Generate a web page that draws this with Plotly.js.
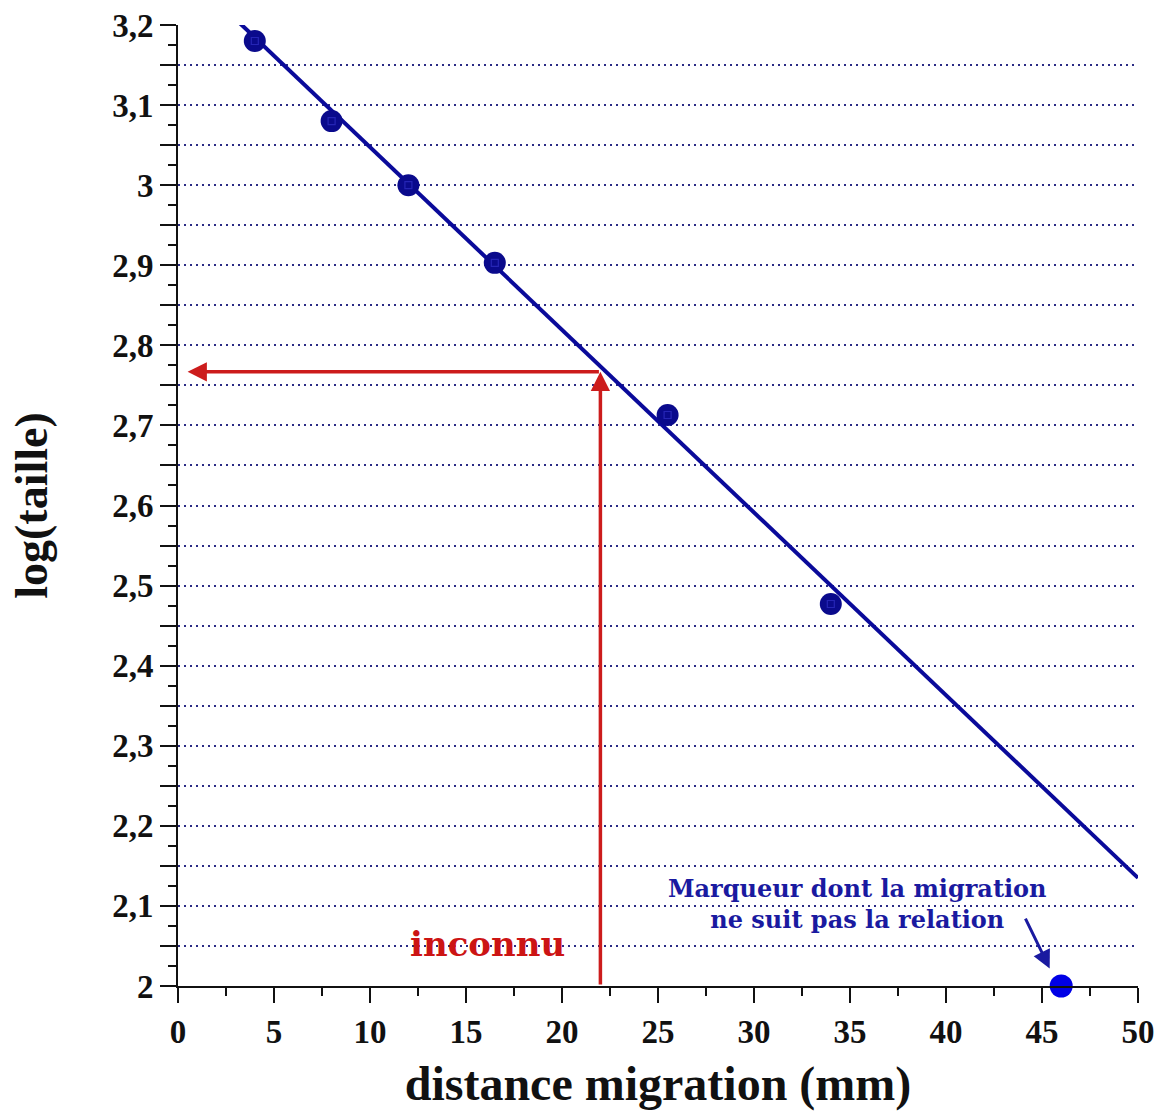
<!DOCTYPE html>
<html>
<head>
<meta charset="utf-8">
<script src="https://cdn.plot.ly/plotly-3.0.1.min.js"></script>
<style>html,body{margin:0;padding:0;background:#fff;}#chart{width:1157px;height:1113px;}</style>
</head>
<body>
<div id="chart"></div>
<script>
// Marker points (distance in mm, log of size)
const distMarkers = [4, 8, 12, 16.5, 25.5, 34];
const logMarkers = [3.18, 3.08, 3.0, 2.903, 2.713, 2.477];
// Outlier marker
const distOutlier = [46];
const logOutlier = [2.0];
// Regression line endpoints
const fitX = [3.1, 50];
const fitY = [3.205, 2.135];
// Unknown sample
const unknownDist = 22;
const unknownLog = 2.767;
// Y tick values and labels
const yTickVals = [2.0, 2.05, 2.1, 2.15, 2.2, 2.25, 2.3, 2.35, 2.4, 2.45, 2.5, 2.55, 2.6, 2.65, 2.7, 2.75, 2.8, 2.85, 2.9, 2.95, 3.0, 3.05, 3.1, 3.15, 3.2];
const yTickText = ["2", "", "2,1", "", "2,2", "", "2,3", "", "2,4", "", "2,5", "", "2,6", "", "2,7", "", "2,8", "", "2,9", "", "3", "", "3,1", "", "3,2"];
const xTickVals = [0, 5, 10, 15, 20, 25, 30, 35, 40, 45, 50];
const xTickText = ["0", "5", "10", "15", "20", "25", "30", "35", "40", "45", "50"];

const serif = "Liberation Serif, Times New Roman, serif";
const slab = "DejaVu Serif, serif";

const traces = [
  {x: fitX, y: fitY, mode: 'lines', line: {color: '#0a0a9a', width: 4}, hoverinfo: 'skip', cliponaxis: true},
  {x: distMarkers, y: logMarkers, mode: 'markers', marker: {symbol: 'circle', size: 22, color: '#0a0a8c', line: {width: 0}}, hoverinfo: 'skip'},
  {x: distMarkers, y: logMarkers, mode: 'markers', marker: {symbol: 'square-open', size: 7, color: '#2525b5', line: {width: 1.2, color: '#2525b5'}}, hoverinfo: 'skip'},
  {x: distOutlier, y: logOutlier, mode: 'markers', marker: {symbol: 'circle', size: 23, color: '#0000e6'}, hoverinfo: 'skip', cliponaxis: false}
];

const layout = {
  width: 1157, height: 1113,
  margin: {l: 178, r: 19, t: 25, b: 127},
  paper_bgcolor: '#ffffff', plot_bgcolor: '#ffffff',
  showlegend: false,
  separators: ', ',
  font: {family: serif, color: '#111111'},
  xaxis: {
    range: [0, 50], tickmode: 'array', tickvals: xTickVals, ticktext: xTickText,
    ticks: 'outside', ticklen: 15, tickwidth: 2, tickcolor: '#111',
    minor: {dtick: 2.5, tick0: 0, ticks: 'outside', ticklen: 8, tickwidth: 2, tickcolor: '#111', showgrid: false},
    showline: true, linecolor: '#111', linewidth: 2, showgrid: false, zeroline: false,
    tickfont: {family: serif, size: 33, weight: 'bold', color: '#111'},
    title: {text: 'distance migration (mm)', font: {family: serif, size: 48, weight: 'bold', color: '#111'}, standoff: 18}
  },
  yaxis: {
    range: [2, 3.2], tickmode: 'array', tickvals: yTickVals, ticktext: yTickText,
    ticks: 'outside', ticklen: 16, tickwidth: 2, tickcolor: '#111',
    minor: {dtick: 0.025, tick0: 2, ticks: 'outside', ticklen: 8, tickwidth: 2, tickcolor: '#111', showgrid: false},
    showline: true, linecolor: '#111', linewidth: 2,
    showgrid: true, gridcolor: '#2b2b85', griddash: '2px,4px', gridwidth: 2, zeroline: false,
    tickfont: {family: serif, size: 33, weight: 'bold', color: '#111'},
    title: {text: 'log(taille)', font: {family: serif, size: 46, weight: 'bold', color: '#111'}, standoff: 50}
  },
  annotations: [
    {x: unknownDist, y: unknownLog, ax: unknownDist, ay: 2.0, xref: 'x', yref: 'y', axref: 'x', ayref: 'y',
     showarrow: true, arrowhead: 2, arrowsize: 1.1, arrowwidth: 3.5, arrowcolor: '#cc1c1c', text: ''},
    {x: 0.5, y: unknownLog, ax: unknownDist, ay: unknownLog, xref: 'x', yref: 'y', axref: 'x', ayref: 'y',
     showarrow: true, arrowhead: 2, arrowsize: 1.1, arrowwidth: 3.5, arrowcolor: '#cc1c1c', text: ''},
    {x: 16.1, y: 2.053, xref: 'x', yref: 'y', text: 'inconnu', showarrow: false,
     font: {family: slab, size: 34, weight: 'bold', color: '#cc1414'}},
    {x: 35.4, y: 2.102, xref: 'x', yref: 'y', text: 'Marqueur dont la migration<br>ne suit pas la relation', showarrow: false,
     align: 'center', font: {family: slab, size: 24, weight: 'bold', color: '#1a1aa0'}},
    {x: 45.4, y: 2.022, ax: 44.1, ay: 2.086, xref: 'x', yref: 'y', axref: 'x', ayref: 'y',
     showarrow: true, arrowhead: 2, arrowsize: 1.2, arrowwidth: 3, arrowcolor: '#1a1aa0', text: ''}
  ]
};

Plotly.newPlot('chart', traces, layout, {staticPlot: true, displayModeBar: false});
</script>
</body>
</html>
